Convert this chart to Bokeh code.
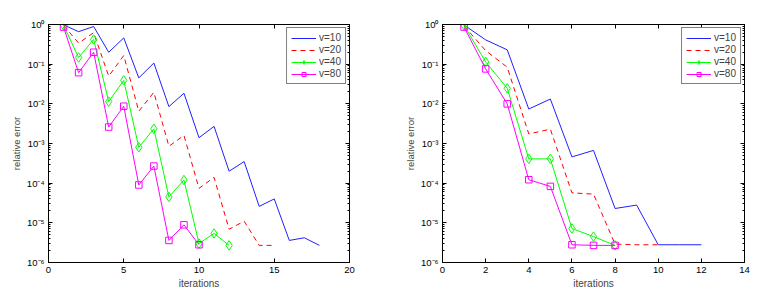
from bokeh.plotting import figure
from bokeh.layouts import row
from bokeh.models import (FixedTicker, CustomJSTickFormatter, LinearAxis, LogAxis,
                          Range1d, Legend, LegendItem)
from bokeh.embed import file_html
from bokeh.resources import INLINE

# ---- data (left panel) ----
l_x10 = list(range(1, 19))
l_v10 = [0.98, 0.66, 0.89, 0.2, 0.46, 0.045, 0.107, 0.0085, 0.0185, 0.0014, 0.0027,
         2.0e-4, 3.5e-4, 2.6e-5, 4.0e-5, 3.6e-6, 4.2e-6, 2.7e-6]
l_x20 = list(range(1, 16))
l_v20 = [0.95, 0.34, 0.62, 0.05, 0.165, 0.0065, 0.0195, 8.5e-4, 1.6e-3, 7.4e-5, 1.4e-4,
         6.9e-6, 1.1e-5, 2.7e-6, 2.7e-6]
l_x40 = list(range(1, 13))
l_v40 = [0.95, 0.147, 0.42, 0.0114, 0.039, 8.0e-4, 2.35e-3, 4.5e-5, 1.2e-4, 3.0e-6,
         5.4e-6, 2.7e-6]
l_x80 = list(range(1, 11))
l_v80 = [0.86, 0.061, 0.2, 2.6e-3, 8.7e-3, 9.0e-5, 2.7e-4, 3.6e-6, 8.9e-6, 2.8e-6]

# ---- data (right panel) ----
r_x10 = list(range(1, 13))
r_v10 = [0.97, 0.41, 0.23, 0.0074, 0.0132, 4.6e-4, 6.7e-4, 2.3e-5, 2.8e-5, 2.8e-6,
         2.8e-6, 2.8e-6]
r_x20 = list(range(1, 11))
r_v20 = [0.92, 0.22, 0.084, 1.74e-3, 2.3e-3, 5.7e-5, 5.3e-5, 2.9e-6, 2.8e-6, 2.8e-6]
r_x40 = list(range(1, 9))
r_v40 = [0.95, 0.114, 0.0246, 4.1e-4, 4.1e-4, 7.2e-6, 4.5e-6, 2.7e-6]
r_x80 = list(range(1, 9))
r_v80 = [0.86, 0.076, 0.01, 1.22e-4, 8.3e-5, 2.8e-6, 2.7e-6, 2.7e-6]

labels = ["v=10", "v=20", "v=40", "v=80"]
y_major = [1e-6, 1e-5, 1e-4, 1e-3, 1e-2, 1e-1, 1.0]
y_minor = [m * d for d in y_major[:-1] for m in range(2, 10)]

FONT = "Liberation Sans"

sup_js = """
const e = Math.round(Math.log10(tick));
const s = {'-':'\u207b','0':'\u2070','1':'\u00b9','2':'\u00b2','3':'\u00b3','4':'\u2074',
           '5':'\u2075','6':'\u2076','7':'\u2077','8':'\u2078','9':'\u2079'};
return '10' + String(e).split('').map(c => s[c]).join('');
"""


def style_axis(ax):
    ax.major_tick_in = 4
    ax.major_tick_out = 0
    ax.minor_tick_in = 2
    ax.minor_tick_out = 0
    ax.axis_line_color = "black"
    ax.major_tick_line_color = "black"
    ax.minor_tick_line_color = "black"
    ax.major_label_text_font = FONT
    ax.major_label_text_font_size = "9.5px"
    ax.major_label_text_color = "black"
    ax.major_label_standoff = 4
    ax.axis_label_text_font = FONT
    ax.axis_label_text_font_size = "10px"
    ax.axis_label_text_font_style = "normal"
    ax.axis_label_standoff = 2


def make_panel(width, border_left, border_right, xmax, xticks, data):
    p = figure(width=width, height=296, output_backend="svg", toolbar_location=None,
               y_axis_type="log", x_range=Range1d(0, xmax), y_range=Range1d(1e-6, 1.0),
               min_border_left=border_left, min_border_right=border_right,
               min_border_top=24, min_border_bottom=34)
    p.xgrid.visible = False
    p.ygrid.visible = False
    p.outline_line_color = "black"
    p.outline_line_width = 1
    p.background_fill_color = "white"
    p.border_fill_color = "white"

    p.xaxis.ticker = FixedTicker(ticks=xticks)
    p.yaxis.ticker = FixedTicker(ticks=y_major, minor_ticks=y_minor)
    p.yaxis.formatter = CustomJSTickFormatter(code=sup_js)
    p.xaxis.axis_label = "iterations"
    p.yaxis.axis_label = "relative error"
    style_axis(p.xaxis[0])
    style_axis(p.yaxis[0])
    p.yaxis.axis_label_text_font_size = "9.5px"

    # mirrored tick marks on top and right (no labels)
    top = LinearAxis(ticker=FixedTicker(ticks=xticks),
                     formatter=CustomJSTickFormatter(code="return ''"))
    style_axis(top)
    top.major_label_standoff = 0
    p.add_layout(top, "above")
    right = LogAxis(ticker=FixedTicker(ticks=y_major, minor_ticks=y_minor),
                    formatter=CustomJSTickFormatter(code="return ''"))
    style_axis(right)
    right.major_label_standoff = 0
    p.add_layout(right, "right")

    (x10, v10), (x20, v20), (x40, v40), (x80, v80) = data
    r1 = p.line(x10, v10, line_color="#2020ff", line_width=1)
    r2 = p.line(x20, v20, line_color="#ff0000", line_width=1, line_dash="5 4")
    r3 = p.line(x40, v40, line_color="#00ff00", line_width=1)
    m3 = p.scatter(x40, v40, marker="diamond", size=9.5, line_color="#00ff00",
                   fill_color=None, line_width=1)
    r4 = p.line(x80, v80, line_color="#ff00ff", line_width=1)
    m4 = p.scatter(x80, v80, marker="square", size=6.5, line_color="#ff00ff",
                   fill_color=None, line_width=1)

    legend = Legend(items=[LegendItem(label=labels[0], renderers=[r1]),
                           LegendItem(label=labels[1], renderers=[r2]),
                           LegendItem(label=labels[2], renderers=[r3, m3]),
                           LegendItem(label=labels[3], renderers=[r4, m4])],
                    location="top_right")
    legend.border_line_color = "black"
    legend.border_line_width = 1.2
    legend.label_text_font = FONT
    legend.label_text_font_size = "10px"
    legend.label_height = 10
    legend.glyph_height = 10
    legend.glyph_width = 25
    legend.spacing = 1
    legend.padding = 4
    legend.margin = 3
    legend.label_standoff = 3
    legend.background_fill_alpha = 1
    p.add_layout(legend)
    return p


left = make_panel(390, 48, 41, 20, [0, 5, 10, 15, 20],
                  [(l_x10, l_v10), (l_x20, l_v20), (l_x40, l_v40), (l_x80, l_v80)])
right = make_panel(386, 52, 32, 14, [0, 2, 4, 6, 8, 10, 12, 14],
                   [(r_x10, r_v10), (r_x20, r_v20), (r_x40, r_v40), (r_x80, r_v80)])

layout = row(left, right)
open("out.html", "w").write(file_html(layout, INLINE))
